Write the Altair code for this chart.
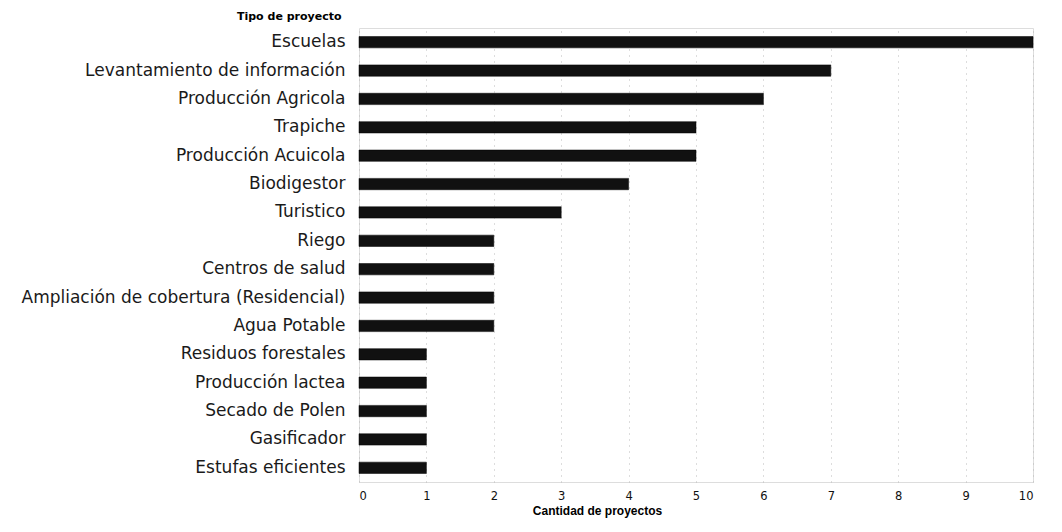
import altair as alt
import pandas as pd

categories = [
    "Escuelas", "Levantamiento de información", "Producción Agricola", "Trapiche",
    "Producción Acuicola", "Biodigestor", "Turistico", "Riego", "Centros de salud",
    "Ampliación de cobertura (Residencial)", "Agua Potable", "Residuos forestales",
    "Producción lactea", "Secado de Polen", "Gasificador", "Estufas eficientes",
]
values = [10, 7, 6, 5, 5, 4, 3, 2, 2, 2, 2, 1, 1, 1, 1, 1]
x_ticks = list(range(0, 11))

df = pd.DataFrame({"tipo": categories, "cantidad": values})

chart = alt.Chart(df).mark_bar(color="#111111", stroke="#000000", strokeWidth=0.5).encode(
    y=alt.Y("tipo:N", sort=categories,
            scale=alt.Scale(paddingInner=0.6, paddingOuter=0.3),
            axis=alt.Axis(title="Tipo de proyecto", titleAngle=0, titleAlign="right",
                          titleBaseline="alphabetic",
                          titleX=-18, titleY=-9, titleFontSize=11, titleFontWeight="bold",
                          titleFont="DejaVu Sans", titleColor="#000",
                          labelFont="DejaVu Sans", labelFontSize=17, labelColor="#1a1a1a",
                          labelLimit=400,
                          labelPadding=14, ticks=False, domain=False, grid=False)),
    x=alt.X("cantidad:Q", scale=alt.Scale(domain=[0, 10], nice=False),
            axis=alt.Axis(title="Cantidad de proyectos", values=x_ticks, format="d",
                          titleFontSize=12, titleFontWeight="bold", titleFont="Liberation Sans",
                          titleColor="#000", titlePadding=4, titleAlign="center", titleX=238,
                          labelFont="DejaVu Sans", labelFontSize=11.5, labelColor="#111",
                          labelPadding=8, ticks=False, domain=False,
                          grid=True, gridColor="#bbbbbb", gridDash=[1, 5], gridWidth=1)),
).properties(
    width=674, height=454,
    autosize=alt.AutoSizeParams(type="none"),
    padding={"left": 351, "top": 20, "right": 20, "bottom": 40},
).configure_view(stroke=None).configure(background="white")

chart.save("out.html", embed_options={"renderer": "svg", "actions": False})
